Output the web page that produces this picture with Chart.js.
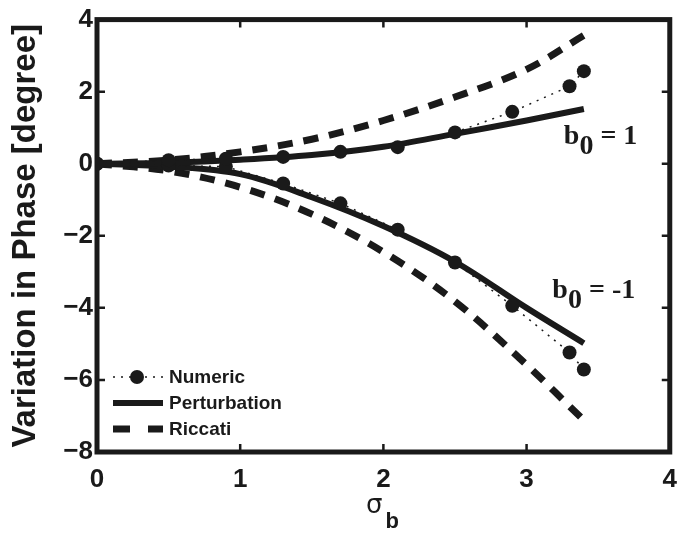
<!DOCTYPE html>
<html>
<head>
<meta charset="utf-8">
<script src="https://cdn.jsdelivr.net/npm/chart.js@4/dist/chart.umd.min.js"></script>
<style>
    html, body { margin: 0; padding: 0; background: #fff; }
</style>
</head>
<body>
<canvas id="graficoFase" width="689" height="533"></canvas>
<script>
// Variacion de fase frente a sigma_b (b0 = 1 arriba, b0 = -1 abajo)

const sigmaCurva = [0, 0.5, 1, 1.5, 2, 2.5, 3, 3.4];
const sigmaNumerico = [0, 0.5, 0.9, 1.3, 1.7, 2.1, 2.5, 2.9, 3.3, 3.4];

const numericoPos = [0, 0.1, 0.14, 0.19, 0.33, 0.46, 0.87, 1.44, 2.15, 2.57];
const numericoNeg = [0, -0.05, -0.08, -0.55, -1.10, -1.83, -2.74, -3.94, -5.24, -5.71];
const perturbacionPos = [0, 0.03, 0.11, 0.24, 0.47, 0.83, 1.2, 1.52];
const perturbacionNeg = [0, -0.08, -0.29, -0.93, -1.73, -2.72, -4.0, -4.98];
const riccatiPos = [0, 0.1, 0.33, 0.68, 1.2, 1.85, 2.62, 3.56];
const riccatiNeg = [0, -0.2, -0.65, -1.4, -2.45, -3.82, -5.58, -7.12];

const ticksX = [0, 1, 2, 3, 4];
const ticksY = [-8, -6, -4, -2, 0, 2, 4];
const etiquetasY = ['\u22128', '\u22126', '\u22124', '\u22122', '0', '2', '4'];
const etiquetasLeyenda = ['Numeric', 'Perturbation', 'Riccati'];

const NEGRO = '#1a1a1a';

function puntos(xs, ys) {
    return xs.map((x, i) => ({ x: x, y: ys[i] }));
}

function serieNumerica(ys) {
    return {
        data: puntos(sigmaNumerico, ys),
        showLine: true,
        borderColor: NEGRO,
        borderWidth: 1.5,
        borderDash: [2, 6],
        pointRadius: 7,
        pointBackgroundColor: NEGRO,
        pointBorderWidth: 0,
        order: 0
    };
}

function seriePerturbacion(ys) {
    return {
        data: puntos(sigmaCurva, ys),
        showLine: true,
        borderColor: NEGRO,
        borderWidth: 6,
        tension: 0.35,
        pointRadius: 0,
        order: 1
    };
}

function serieRiccati(ys) {
    return {
        data: puntos(sigmaCurva, ys),
        showLine: true,
        borderColor: NEGRO,
        borderWidth: 7,
        borderDash: [15, 11],
        borderCapStyle: 'butt',
        tension: 0.35,
        pointRadius: 0,
        order: 2
    };
}

// Marco, marcas interiores, leyenda y anotaciones
const decoracion = {
    id: 'decoracion',
    afterDraw(chart) {
        const ctx = chart.ctx;
        const a = chart.chartArea;
        const x = chart.scales.x;
        const y = chart.scales.y;
        ctx.save();

        ctx.strokeStyle = NEGRO;
        ctx.lineWidth = 2.5;
        ctx.beginPath();
        ticksX.forEach(v => {
            const px = x.getPixelForValue(v);
            ctx.moveTo(px, a.bottom); ctx.lineTo(px, a.bottom - 8);
            ctx.moveTo(px, a.top); ctx.lineTo(px, a.top + 8);
        });
        ticksY.forEach(v => {
            const py = y.getPixelForValue(v);
            ctx.moveTo(a.left, py); ctx.lineTo(a.left + 8, py);
            ctx.moveTo(a.right, py); ctx.lineTo(a.right - 8, py);
        });
        ctx.stroke();

        ctx.lineWidth = 5;
        ctx.strokeRect(a.left, a.top, a.right - a.left, a.bottom - a.top);

        // leyenda
        const lx0 = a.left + 16, lx1 = a.left + 66;
        const filas = [a.bottom - 75, a.bottom - 49, a.bottom - 23];
        ctx.lineCap = 'butt';
        ctx.lineWidth = 1.5;
        ctx.setLineDash([2, 6]);
        ctx.beginPath(); ctx.moveTo(lx0, filas[0]); ctx.lineTo(lx1, filas[0]); ctx.stroke();
        ctx.setLineDash([]);
        ctx.fillStyle = NEGRO;
        ctx.beginPath(); ctx.arc((lx0 + lx1) / 2 - 1, filas[0], 7, 0, Math.PI * 2); ctx.fill();
        ctx.lineWidth = 6;
        ctx.beginPath(); ctx.moveTo(lx0, filas[1]); ctx.lineTo(lx1, filas[1]); ctx.stroke();
        ctx.lineWidth = 7;
        ctx.setLineDash([17, 18]);
        ctx.beginPath(); ctx.moveTo(lx0, filas[2]); ctx.lineTo(lx1, filas[2]); ctx.stroke();
        ctx.setLineDash([]);

        ctx.font = 'bold 19px "Liberation Sans", Arial, sans-serif';
        ctx.textAlign = 'left';
        ctx.textBaseline = 'middle';
        etiquetasLeyenda.forEach((t, i) => ctx.fillText(t, lx1 + 6, filas[i] + 1));

        // anotaciones b0
        const anotaciones = [
            { sx: 3.26, sy: 0.55, texto: ' = 1' },
            { sx: 3.18, sy: -3.72, texto: ' = -1' }
        ];
        ctx.textBaseline = 'alphabetic';
        anotaciones.forEach(n => {
            let px = x.getPixelForValue(n.sx);
            const py = y.getPixelForValue(n.sy);
            ctx.font = 'bold 28px "Liberation Serif", "Times New Roman", serif';
            ctx.fillText('b', px, py);
            px += ctx.measureText('b').width;
            ctx.fillText('0', px, py + 10);
            px += ctx.measureText('0').width;
            ctx.fillText(n.texto, px, py);
        });

        // titulo del eje x: sigma_b
        const cx = x.getPixelForValue(2);
        ctx.font = '26px "DejaVu Sans", sans-serif';
        ctx.textAlign = 'right';
        ctx.fillText('\u03c3', cx - 1, 513);
        ctx.font = 'bold 22px "Liberation Sans", Arial, sans-serif';
        ctx.textAlign = 'left';
        ctx.fillText('b', cx + 2, 528);

        ctx.restore();
    }
};

new Chart(document.getElementById('graficoFase'), {
    type: 'scatter',
    data: {
        datasets: [
            serieNumerica(numericoPos),
            serieNumerica(numericoNeg),
            seriePerturbacion(perturbacionPos),
            seriePerturbacion(perturbacionNeg),
            serieRiccati(riccatiPos),
            serieRiccati(riccatiNeg)
        ]
    },
    options: {
        responsive: false,
        animation: false,
        layout: { padding: { top: 17, right: 14, left: 0, bottom: 0 } },
        plugins: {
            legend: { display: false },
            tooltip: { enabled: false }
        },
        scales: {
            x: {
                type: 'linear',
                min: 0,
                max: 4,
                afterBuildTicks: s => { s.ticks = ticksX.map(v => ({ value: v })); },
                afterFit: s => { s.height = 81; },
                grid: { display: false, drawTicks: false },
                border: { display: false },
                ticks: {
                    color: NEGRO,
                    padding: 12,
                    font: { family: '"Liberation Sans", Arial, sans-serif', size: 26, weight: 'bold' }
                }
            },
            y: {
                type: 'linear',
                min: -8,
                max: 4,
                afterBuildTicks: s => { s.ticks = ticksY.map(v => ({ value: v })); },
                afterFit: s => { s.width = 97; },
                grid: { display: false, drawTicks: false },
                border: { display: false },
                title: {
                    display: true,
                    text: 'Variation in Phase [degree]',
                    color: NEGRO,
                    padding: { top: 6, bottom: 0 },
                    font: { family: '"Liberation Sans", Arial, sans-serif', size: 33, weight: 'bold' }
                },
                ticks: {
                    color: NEGRO,
                    padding: 4,
                    callback: v => etiquetasY[ticksY.indexOf(v)],
                    font: { family: '"Liberation Sans", Arial, sans-serif', size: 26, weight: 'bold' }
                }
            }
        }
    },
    plugins: [decoracion]
});
</script>
</body>
</html>
